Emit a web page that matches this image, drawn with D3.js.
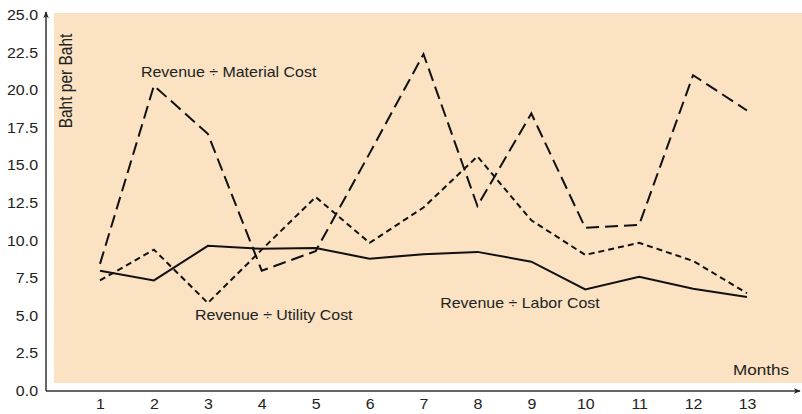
<!DOCTYPE html>
<html lang="en">
<head>
<meta charset="UTF-8">
<title>Revenue per cost, by month</title>
<script src="https://cdn.jsdelivr.net/npm/d3@7/dist/d3.min.js"></script>
<style>
	body{ margin:0; background:#fff; }
	text{ font-family: "Liberation Sans", Arial, Helvetica, sans-serif; fill:#222; }
	.tick text{ font-size:14px; }
	.series{ fill:none; stroke:#111; stroke-width:2; stroke-linejoin:miter; }
	.note{ font-size:14px; }
	.axisLine{ stroke:#333; stroke-width:1.5; }
</style>
</head>
<body>
<div id="main"></div>
<script>
	var months = [1,2,3,4,5,6,7,8,9,10,11,12,13];
	var labor    = [8.0, 7.35, 9.65, 9.45, 9.5, 8.8, 9.1, 9.25, 8.6, 6.75, 7.6, 6.8, 6.25];
	var utility  = [7.35, 9.4, 5.85, 9.4, 12.9, 9.85, 12.2, 15.6, 11.35, 9.05, 9.85, 8.65, 6.5];
	var material = [8.45, 20.3, 17.1, 8.0, 9.3, 15.8, 22.4, 12.3, 18.45, 10.85, 11.05, 21.0, 18.65];
	var yTicks = [0, 2.5, 5, 7.5, 10, 12.5, 15, 17.5, 20, 22.5, 25];

	// label anchors in data units (month, value)
	var notes = [
		{text:"Revenue \u00f7 Material Cost", m:1.76, v:20.85},
		{text:"Revenue \u00f7 Utility Cost",  m:2.76, v:4.72},
		{text:"Revenue \u00f7 Labor Cost",    m:7.31, v:5.52}
	];

	var width = 802, height = 414;
	var originX = 46, originY = 391;
	var stretch = 1.14; // the original type is a bit wider than it is tall

	var svg = d3.select("#main").append("svg")
		.attr("width", width)
		.attr("height", height);

	var x = d3.scaleLinear().domain([1, 13]).range([100, 747]);
	var y = d3.scaleLinear().domain([0, 25]).range([originY, 15]);

	svg.append("defs").append("marker")
		.attr("id", "arrow")
		.attr("viewBox", "0 0 10 10")
		.attr("refX", 9).attr("refY", 5)
		.attr("markerWidth", 7).attr("markerHeight", 7)
		.attr("markerUnits", "userSpaceOnUse")
		.attr("orient", "auto")
		.append("path")
		.attr("d", "M0,1 L10,5 L0,9 L3,5 Z")
		.attr("fill", "#222");

	// plot background
	svg.append("rect")
		.attr("x", 54).attr("y", 13)
		.attr("width", width - 54).attr("height", 383 - 13)
		.attr("fill", "#fae2c3");

	// axes
	var yAxis = svg.append("g")
		.attr("transform", "translate(" + originX + ",0)")
		.call(d3.axisLeft(y).tickValues(yTicks).tickSize(0).tickPadding(7)
			.tickFormat(d3.format(".1f")));
	yAxis.select(".domain").remove();

	var xAxis = svg.append("g")
		.attr("transform", "translate(0," + originY + ")")
		.call(d3.axisBottom(x).tickValues(months).tickSize(0).tickPadding(8));
	xAxis.select(".domain").remove();

	svg.selectAll(".tick text").attr("transform", "scale(" + stretch + ",1)");
	xAxis.selectAll(".tick text").attr("transform", "scale(" + stretch + ",1)");

	svg.append("line").attr("class", "axisLine")
		.attr("x1", originX).attr("y1", originY)
		.attr("x2", originX).attr("y2", 12)
		.attr("marker-end", "url(#arrow)");
	svg.append("line").attr("class", "axisLine")
		.attr("x1", originX).attr("y1", originY)
		.attr("x2", 800).attr("y2", originY)
		.attr("marker-end", "url(#arrow)");

	var line = d3.line()
		.x(function(d, i){ return x(months[i]); })
		.y(function(d){ return y(d); });

	svg.append("path").attr("class", "series")
		.attr("d", line(labor));
	svg.append("path").attr("class", "series")
		.attr("stroke-dasharray", "6,4")
		.attr("d", line(utility));
	svg.append("path").attr("class", "series")
		.attr("stroke-dasharray", "13,6")
		.attr("d", line(material));

	svg.selectAll("text.note")
		.data(notes)
		.enter()
		.append("text")
		.attr("class", "note")
		.attr("transform", function(d){
			return "translate(" + x(d.m) + "," + y(d.v) + ") scale(" + stretch + ",1)";
		})
		.text(function(d){ return d.text; });

	svg.append("text")
		.attr("transform", "translate(733,375) scale(" + stretch + ",1)")
		.style("font-size", "15px")
		.text("Months");

	svg.append("text")
		.attr("transform", "translate(72,81) rotate(-90) scale(1," + stretch + ")")
		.attr("text-anchor", "middle")
		.style("font-size", "15.5px")
		.text("Baht per Baht");
</script>
</body>
</html>
